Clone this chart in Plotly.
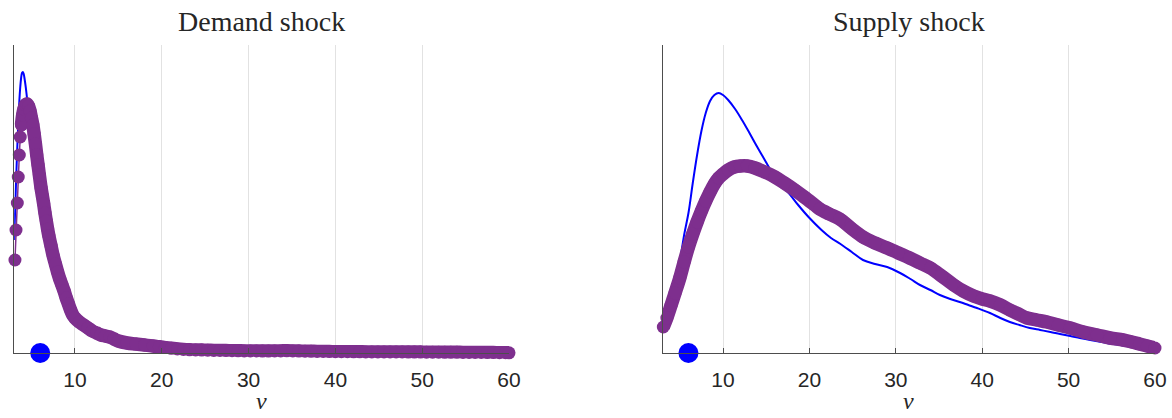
import plotly.graph_objects as go

# ---------------- data ----------------
titles = ["Demand shock", "Supply shock"]
x_label = "v"
x_ticks = [10, 20, 30, 40, 50, 60]
observed_v = 6.0   # blue dot position

# Demand shock: blue reference density
dem_blue_v = [3.0, 3.1, 3.2, 3.3, 3.4, 3.5, 3.6, 3.7, 3.8, 3.9, 4.0, 4.1, 4.2, 4.3, 4.4,
              4.5, 4.6, 4.8, 5.0, 5.3, 5.6, 6.0, 6.5, 7.0, 7.5, 8.0, 9.0, 10.0, 11.0,
              12.0, 14.0, 16.0, 20.0, 25.0, 30.0, 40.0, 50.0, 60.0]
dem_blue_d = [0.113, 0.140, 0.167, 0.192, 0.215, 0.236, 0.253, 0.266, 0.275, 0.280, 0.281,
              0.279, 0.274, 0.268, 0.261, 0.253, 0.245, 0.232, 0.220, 0.211, 0.193, 0.168,
              0.139, 0.115, 0.095, 0.079, 0.054, 0.035, 0.027, 0.022, 0.015, 0.010, 0.006,
              0.003, 0.002, 0.0013, 0.0008, 0.0002]

# Demand shock: purple estimated density (markers)
dem_purple_v = [3.09, 3.21, 3.36, 3.47, 3.59, 3.70, 3.84, 3.98, 4.13, 4.30, 4.47, 4.65, 4.82,
                4.99, 5.15, 5.30, 5.45, 5.60, 5.75, 5.90, 6.10, 6.25, 6.40, 6.55, 6.70, 6.85,
                7.00, 7.25, 7.50, 7.75, 8.00, 8.25, 8.50, 8.75, 9.00, 9.25, 9.50, 9.75, 10.0,
                10.5, 11.0, 11.5, 12.0, 12.5, 13.0, 13.5, 14.0, 14.5, 15.0, 16.0, 17.0, 18.0,
                19.0, 19.7, 20.4, 21.1, 21.8, 22.5, 23.2, 23.9, 24.6, 25.3, 26.0, 26.7, 27.4,
                28.1, 28.8, 29.5, 30.2, 30.9, 31.6, 32.3, 33.0, 33.7, 34.4, 35.1, 35.8, 36.5,
                37.2, 37.9, 38.6, 39.3, 40.0, 40.7, 41.4, 42.1, 42.8, 43.5, 44.2, 44.9, 45.6,
                46.3, 47.0, 47.7, 48.4, 49.1, 49.8, 50.5, 51.2, 51.9, 52.6, 53.3, 54.0, 54.7,
                55.4, 56.1, 56.8, 57.5, 58.2, 58.9, 59.6, 60.0]
dem_purple_d = [0.093, 0.123, 0.150, 0.176, 0.198, 0.216, 0.228, 0.238, 0.244, 0.248, 0.249,
                0.247, 0.242, 0.235, 0.228, 0.219, 0.209, 0.198, 0.188, 0.178, 0.165, 0.157,
                0.149, 0.140, 0.132, 0.124, 0.117, 0.107, 0.097, 0.089, 0.081, 0.074, 0.068,
                0.062, 0.055, 0.049, 0.043, 0.038, 0.035, 0.031, 0.028, 0.025, 0.022, 0.020,
                0.018, 0.017, 0.016, 0.014, 0.012, 0.010, 0.009, 0.008,
                0.0070, 0.0062, 0.0054, 0.0047, 0.0040, 0.0035, 0.0032, 0.0030, 0.0029,
                0.0028, 0.0026, 0.0025, 0.0024, 0.0023, 0.0022, 0.0021, 0.0020, 0.0020,
                0.0019, 0.0019, 0.0020, 0.0021, 0.0022, 0.0021, 0.0019, 0.0018, 0.0017,
                0.0016, 0.0015, 0.0014, 0.0013, 0.0013, 0.0013, 0.0012, 0.0012, 0.0011,
                0.0011, 0.0011, 0.0010, 0.0010, 0.0010, 0.0010, 0.0009, 0.0009, 0.0009,
                0.0008, 0.0008, 0.0008, 0.0007, 0.0007, 0.0007, 0.0006, 0.0006, 0.0005,
                0.0005, 0.0004, 0.0004, 0.0003, 0.0003, 0.0002]
dem_sparse_count = 7   # first beads joined by a thin line

# Supply shock: blue reference density
sup_blue_v = [3.0, 3.5, 4.0, 4.5, 5.0, 5.5, 6.0, 6.5, 7.0, 7.5, 8.0, 8.5, 9.0, 9.5, 10.0, 10.6,
              11.4, 12.2, 13.0, 13.7, 14.5, 15.3, 16.0, 17.0, 17.6, 18.7, 19.9, 21.4, 22.5,
              23.6, 24.9, 26.2, 27.6, 29.0, 30.5, 31.7, 32.8, 34.0, 35.1, 36.3, 37.4, 38.4,
              39.4, 40.9, 42.1, 43.2, 44.3, 45.5, 46.7, 47.9, 49.0, 50.2, 51.3, 52.5, 53.5,
              54.4, 56.0, 58.0, 60.0]
sup_blue_d = [0.027, 0.034, 0.044, 0.061, 0.090, 0.118, 0.140, 0.170, 0.198, 0.222, 0.240,
              0.252, 0.258, 0.260, 0.258, 0.253, 0.244, 0.233, 0.221, 0.210, 0.198, 0.186,
              0.176, 0.165, 0.160, 0.148, 0.136, 0.123, 0.115, 0.109, 0.101, 0.093, 0.089,
              0.086, 0.080, 0.074, 0.068, 0.063, 0.058, 0.054, 0.051, 0.048, 0.045, 0.040,
              0.035, 0.031, 0.028, 0.025, 0.023, 0.021, 0.019, 0.017, 0.015, 0.013, 0.0115,
              0.010, 0.008, 0.005, 0.003]

# Supply shock: purple estimated density (markers)
sup_purple_v = [3.09, 3.5, 4.0, 4.45, 5.0, 5.5, 6.0, 6.5, 7.0, 7.5, 8.0, 8.5, 9.0, 9.5, 10.0,
                10.6, 11.3, 12.0, 12.8, 13.7, 14.8, 16.0, 17.1, 18.3, 19.4, 20.6, 21.2, 22.3,
                23.5, 24.8, 26.2, 27.6, 29.0, 30.3, 31.6, 32.8, 34.0, 35.3, 36.7, 37.8, 39.0,
                40.0, 40.9, 42.1, 43.2, 44.2, 45.2, 46.3, 47.5, 48.8, 50.2, 51.7, 53.3, 54.8,
                56.3, 57.3, 58.2, 59.1, 60.0]
sup_purple_d = [0.026, 0.035, 0.048, 0.060, 0.075, 0.091, 0.106, 0.119, 0.131, 0.142, 0.152,
                0.161, 0.169, 0.175, 0.179, 0.183, 0.186, 0.187, 0.187, 0.185, 0.181, 0.176,
                0.170, 0.163, 0.156, 0.148, 0.144, 0.139, 0.134, 0.125, 0.116, 0.110, 0.105,
                0.100, 0.095, 0.090, 0.085, 0.077, 0.068, 0.062, 0.057, 0.054, 0.052, 0.048,
                0.043, 0.039, 0.035, 0.033, 0.031, 0.028, 0.025, 0.021, 0.018, 0.015, 0.013,
                0.011, 0.009, 0.007, 0.005]

# ---------------- style ----------------
BLUE = "#0000FF"
PURPLE = "#7E2F8E"
AXIS = "#4d4d4d"
TXT = "#262626"
MSIZE = 13

fig = go.Figure()

def add_panel(xa, ya, bv, bd, pv, pd, sparse):
    fig.add_trace(go.Scatter(x=bv, y=bd, mode="lines", line=dict(color=BLUE, width=2, shape="spline"),
                             xaxis=xa, yaxis=ya, showlegend=False, hoverinfo="skip"))
    if sparse > 0:
        fig.add_trace(go.Scatter(x=pv[:sparse], y=pd[:sparse], mode="lines+markers",
                                 line=dict(color=PURPLE, width=1.5),
                                 marker=dict(color=PURPLE, size=MSIZE),
                                 xaxis=xa, yaxis=ya, showlegend=False, cliponaxis=False,
                                 hoverinfo="skip"))
    start = max(sparse - 1, 0)
    fig.add_trace(go.Scatter(x=pv[start:], y=pd[start:], mode="lines+markers",
                             line=dict(color=PURPLE, width=MSIZE + 0.5, shape="spline"),
                             marker=dict(color=PURPLE, size=MSIZE),
                             xaxis=xa, yaxis=ya, showlegend=False, cliponaxis=False,
                             hoverinfo="skip"))
    fig.add_trace(go.Scatter(x=[observed_v], y=[0], mode="markers",
                             marker=dict(color=BLUE, size=20),
                             xaxis=xa, yaxis=ya, showlegend=False, cliponaxis=False,
                             hoverinfo="skip"))

add_panel("x", "y", dem_blue_v, dem_blue_d, dem_purple_v, dem_purple_d, dem_sparse_count)
add_panel("x2", "y2", sup_blue_v, sup_blue_d, sup_purple_v, sup_purple_d, 0)

xcommon = dict(range=[3, 60], tickvals=x_ticks, ticks="inside", ticklen=5, tickcolor=AXIS,
               showgrid=True, gridcolor="#e2e2e2", gridwidth=1, showline=True, linecolor=AXIS,
               linewidth=1, zeroline=False, ticklabelstandoff=8, automargin=False,
               tickfont=dict(family="Liberation Sans, Arial", size=21, color=TXT))
ycommon = dict(range=[0, 0.308], showticklabels=False, ticks="", showgrid=False, showline=True,
               linecolor=AXIS, linewidth=1, zeroline=False, automargin=False)

fig.update_layout(
    width=1172, height=418, margin=dict(l=0, r=0, t=45, b=65, autoexpand=False),
    paper_bgcolor="white", plot_bgcolor="white",
    xaxis=dict(domain=[0.0121, 0.4343], anchor="y", **xcommon),
    xaxis2=dict(domain=[0.5653, 0.9855], anchor="y2", **xcommon),
    yaxis=dict(domain=[0, 1], anchor="x", **ycommon),
    yaxis2=dict(domain=[0, 1], anchor="x2", **ycommon),
)

for i, t in enumerate(titles):
    xr = "x domain" if i == 0 else "x2 domain"
    fig.add_annotation(text=t, xref=xr, yref="paper", x=0.5, y=1.075, xanchor="center",
                       yanchor="middle", showarrow=False,
                       font=dict(family="Liberation Serif, Times New Roman", size=28, color=TXT))
    fig.add_annotation(text="<i>" + x_label + "</i>", xref=xr, yref="paper", x=0.5, y=-0.205,
                       xanchor="center", yanchor="bottom", showarrow=False,
                       font=dict(family="Liberation Serif, Times New Roman", size=24, color=TXT))

fig.write_html("out.html", config={"displayModeBar": False},
               post_script="document.body.style.margin='0px';document.body.style.overflow='hidden';")
